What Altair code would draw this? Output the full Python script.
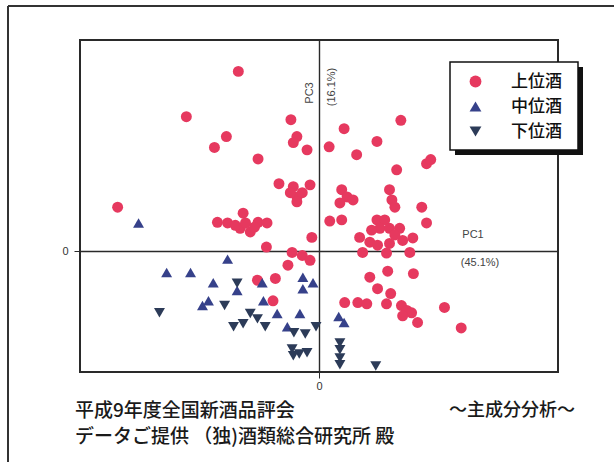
import altair as alt
import pandas as pd

# --- principal component scores (PC1 vs PC3) by grade -------------------
grades = ["上位酒", "中位酒", "下位酒"]
grade_colors = ["#e6395f", "#36418a", "#2c3b58"]
grade_shapes = ["circle", "triangle-up", "triangle-down"]

upper_pc1 = [-1.35, -2.22, -1.55, -1.75, -1.02, -0.47, -0.37, -0.43, -0.20, -3.37,
             -0.67, -0.43, -0.15, -0.37, -0.37, -0.48, -0.28, -1.70, -1.53, -1.27,
             -1.32, -1.15, -1.02, -0.87, -1.40, -1.23, -1.08, -0.12, -0.88, -0.45,
             1.37, 0.42, 0.17, 0.97, 0.63, 1.30, 1.80, 1.87, 0.38, 0.47,
             0.57, 0.35, 1.18, 1.22, 1.27, 1.72, 1.80, 0.18, 0.38, 0.97,
             1.10, 1.02, 1.18, 0.68, 0.85, 1.35, 1.40, 0.98, 1.18, 1.52,
             1.13, 0.73, 1.15, 0.85, 1.58, 0.98, 1.20, 0.43, 0.65, 0.80,
             1.13, 1.38, 1.47, 1.55, 1.40, 1.65, 2.10, 2.38, -0.28, -0.15,
             -0.52, -1.03, -0.73, -0.77, 0.88, 1.27, 1.57]
upper_pc3 = [2.98, 2.23, 1.90, 1.72, 1.53, 2.18, 1.90, 1.80, 1.68, 0.73,
             1.12, 1.07, 1.10, 0.90, 0.82, 0.97, 0.97, 0.48, 0.47, 0.63,
             0.38, 0.32, 0.48, 0.47, 0.43, 0.47, 0.40, 0.23, 0.07, -0.02,
             2.17, 2.03, 1.73, 1.82, 1.60, 1.35, 1.45, 1.52, 1.02, 0.90,
             0.85, 0.80, 1.02, 0.85, 0.73, 0.73, 0.47, 0.50, 0.52, 0.52,
             0.52, 0.38, 0.38, 0.23, 0.15, 0.38, 0.18, 0.10, 0.13, -0.02,
             -0.03, -0.02, -0.33, -0.43, -0.37, -0.62, -0.70, -0.85, -0.85, -0.87,
             -0.87, -0.90, -0.98, -1.02, -1.07, -1.18, -0.93, -1.27, -0.07, -0.15,
             -0.23, -0.48, -0.45, -0.82, 0.35, 0.27, 0.22]

middle_pc1 = [-3.02, -1.53, -2.55, -2.15, -1.77, -1.37, -0.95, -0.27, -0.10, -0.27,
              -1.85, -1.95, -0.93, -0.70, -0.32, -0.53, 0.33, 0.42]
middle_pc3 = [0.47, -0.13, -0.35, -0.35, -0.52, -0.65, -0.52, -0.43, -0.52, -0.62,
              -0.82, -0.90, -0.82, -1.03, -1.03, -1.25, -1.08, -1.18]

lower_pc1 = [-2.67, -1.58, -1.37, -1.15, -1.03, -1.43, -1.27, -0.90, -0.42, -0.23,
             -0.05, -0.45, -0.33, -0.20, -0.43, 0.35, 0.35, 0.35, 0.35, 0.95]
lower_pc3 = [-1.02, -0.90, -0.53, -1.03, -1.12, -1.25, -1.20, -1.25, -1.35, -1.37,
             -1.25, -1.62, -1.70, -1.68, -1.73, -1.52, -1.63, -1.77, -1.88, -1.90]

assert len(upper_pc1) == len(upper_pc3)
assert len(middle_pc1) == len(middle_pc3)
assert len(lower_pc1) == len(lower_pc3)

rows = []
for g, xs, ys in zip(grades, [upper_pc1, middle_pc1, lower_pc1],
                     [upper_pc3, middle_pc3, lower_pc3]):
    for a, b in zip(xs, ys):
        rows.append({"grade": g, "pc1": a, "pc3": b})
scores = pd.DataFrame(rows)

JP = "Noto Sans CJK JP"
LATIN = "Liberation Sans"
INK = "#2a2a2a"
W, H = 478, 332

# legend entries only; the framed box behind them is drawn as its own layer
legend = alt.Legend(
    title=None, orient="none", legendX=370, legendY=22,
    padding=11, rowPadding=7, labelFont=JP, labelFontSize=17,
    labelColor="#111", labelFontWeight=500, symbolSize=140, symbolOffset=6,
    labelOffset=27, symbolStrokeWidth=0,
)

points = alt.Chart(scores).mark_point(filled=True, opacity=1, size=120).encode(
    x=alt.X("pc1:Q", scale=alt.Scale(domain=[-4, 4], nice=False, zero=False),
            axis=alt.Axis(values=[0], title=None, grid=True, gridColor=INK,
                          gridWidth=1.4, domain=False, tickSize=6, tickColor=INK,
                          labelFont=LATIN, labelFontSize=11, labelColor="#333",
                          labelPadding=2)),
    y=alt.Y("pc3:Q", scale=alt.Scale(domain=[-2, 3.5], nice=False, zero=False),
            axis=alt.Axis(values=[0], title=None, grid=True, gridColor=INK,
                          gridWidth=1.4, domain=False, tickSize=6, tickColor=INK,
                          labelFont=LATIN, labelFontSize=11, labelColor="#333",
                          labelPadding=6)),
    color=alt.Color("grade:N", scale=alt.Scale(domain=grades, range=grade_colors),
                    legend=legend),
    shape=alt.Shape("grade:N", scale=alt.Scale(domain=grades, range=grade_shapes),
                    legend=legend),
)

one = pd.DataFrame({"k": [0]})

# legend box with a drop shadow
shadow = alt.Chart(one).mark_rect(color="#111").encode(
    x=alt.value(375), x2=alt.value(503), y=alt.value(27), y2=alt.value(115)
)
legend_box = alt.Chart(one).mark_rect(
    fill="white", stroke="#111", strokeWidth=1.5
).encode(x=alt.value(370), x2=alt.value(498), y=alt.value(22), y2=alt.value(110))

# outer page frame (left and top edges)
frame_left = alt.Chart(one).mark_rule(color="#333", strokeWidth=2).encode(
    x=alt.value(-72), y=alt.value(-34), y2=alt.value(430)
)
frame_top = alt.Chart(one).mark_rule(color="#333", strokeWidth=2).encode(
    x=alt.value(-72), x2=alt.value(540), y=alt.value(-34)
)


def label(txt, x, y, font=LATIN, size=11, angle=0, align="center",
          color="#444", weight="normal"):
    return alt.Chart(one).mark_text(
        font=font, fontSize=size, angle=angle, align=align, baseline="middle",
        color=color, fontWeight=weight,
    ).encode(x=alt.value(x), y=alt.value(y), text=alt.value(txt))


texts = [
    label("PC3", 230, 53, angle=270),
    label("(16.1%)", 252, 47, angle=270),
    label("PC1", 393, 195),
    label("(45.1%)", 400, 223),
    label("平成9年度全国新酒品評会", -5, 371, font=JP, size=19, align="left",
          color="#1a1a1a", weight=500),
    label("データご提供 （独)酒類総合研究所 殿", -5, 397, font=JP, size=19,
          align="left", color="#1a1a1a", weight=500),
    label("～主成分分析～", 495, 371, font=JP, size=18, align="right",
          color="#1a1a1a", weight=500),
]

chart = alt.layer(points, shadow, legend_box, frame_left, frame_top,
                  *texts).properties(
    width=W, height=H,
    padding={"left": 80, "top": 40, "right": 56, "bottom": 90},
    autosize=alt.AutoSizeParams(type="none"),
    background="white",
).configure_view(stroke=INK, strokeWidth=2)

chart.save("out.html", embed_options={"renderer": "svg", "actions": False})
